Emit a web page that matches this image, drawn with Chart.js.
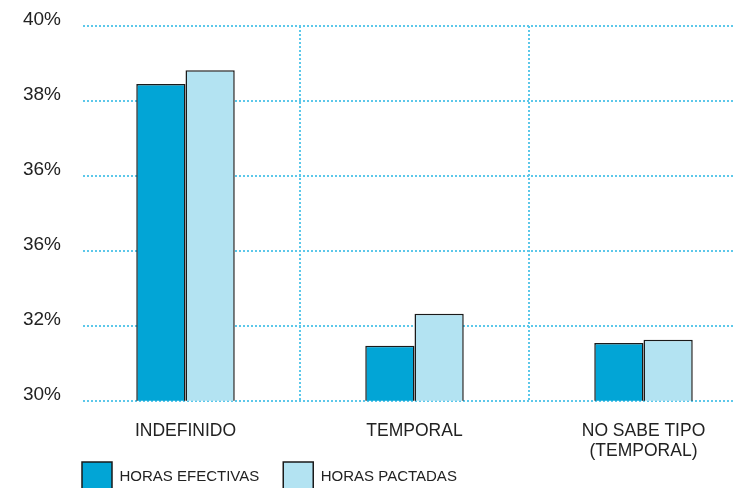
<!DOCTYPE html>
<html>
<head>
<meta charset="utf-8">
<script src="https://cdn.jsdelivr.net/npm/chart.js@4/dist/chart.umd.min.js"></script>
<style>
  html, body { margin: 0; padding: 0; background: #fff; overflow: hidden; }
  #wrap { position: relative; width: 758px; height: 545px; }
</style>
</head>
<body>
<div id="wrap"><canvas id="c"></canvas></div>
<script>
const categories = ["INDEFINIDO", "TEMPORAL", ["NO SABE TIPO", "(TEMPORAL)"]];
const horasEfectivas = [38.45, 31.47, 31.54];
const horasPactadas = [38.82, 32.32, 31.63];
const tickLabels = ["30%", "32%", "36%", "36%", "38%", "40%"];
const seriesNames = ["HORAS EFECTIVAS", "HORAS PACTADAS"];

const GRID = "#5cc8ea";
const TEXT = "#222222";
const FONT = "'Liberation Sans', Arial, sans-serif";

const legendShift = {
  id: "legendShift",
  afterLayout(chart) {
    const lg = chart.legend;
    const pad = lg.options.labels.padding;
    const dx = 82 - pad - lg.left;
    const dy = 462 - pad - lg.top;
    lg.left += dx; lg.right += dx;
    lg.top += dy; lg.bottom += dy;
    if (lg.legendHitBoxes) lg.legendHitBoxes.forEach(b => { b.left += dx; b.top += dy; });
  },
  beforeDatasetsDraw(chart) {
    const ctx = chart.ctx, a = chart.chartArea;
    ctx.save();
    ctx.fillStyle = "#fff";
    ctx.fillRect(a.left - 1, a.top - 3, 12, a.bottom - a.top + 6);
    ctx.restore();
  }
};

new Chart(document.getElementById("c"), {
  type: "bar",
  data: {
    labels: categories,
    datasets: [
      { label: seriesNames[0], data: horasEfectivas, backgroundColor: "#02a5d6", borderColor: "#1a1a1a", borderWidth: 1.5 },
      { label: seriesNames[1], data: horasPactadas, backgroundColor: "#b3e3f2", borderColor: "#1a1a1a", borderWidth: 1.5 }
    ]
  },
  options: {
    responsive: true,
    maintainAspectRatio: false,
    animation: false,
    layout: { padding: { top: 26, right: 0, left: 0, bottom: 0 } },
    datasets: { bar: { categoryPercentage: 0.43, barPercentage: 1.0 } },
    plugins: {
      tooltip: { enabled: false },
      legend: {
        position: "bottom",
        align: "start",
        labels: {
          boxWidth: 30, boxHeight: 30, padding: 24,
          color: TEXT,
          font: { family: FONT, size: 15 }
        }
      }
    },
    scales: {
      x: {
        offset: true,
        border: { display: false, dash: [2, 2] },
        grid: {
          offset: true,
          drawTicks: false,
          lineWidth: 2,
          color: (ctx) => (ctx.index === 0 || ctx.index === categories.length) ? "rgba(0,0,0,0)" : GRID
        },
        ticks: {
          color: TEXT,
          padding: 20,
          font: { family: FONT, size: 17.5, lineHeight: 1.15 }
        }
      },
      y: {
        min: 30, max: 40,
        afterFit(scale) { scale.width = 71; },
        border: { display: false, dash: [2, 2] },
        grid: { drawTicks: false, lineWidth: 2, color: GRID },
        ticks: {
          stepSize: 2,
          padding: 10,
          labelOffset: -6,
          color: TEXT,
          font: { family: FONT, size: 19 },
          callback: (v, i) => tickLabels[i]
        }
      }
    }
  },
  plugins: [legendShift]
});
</script>
</body>
</html>
